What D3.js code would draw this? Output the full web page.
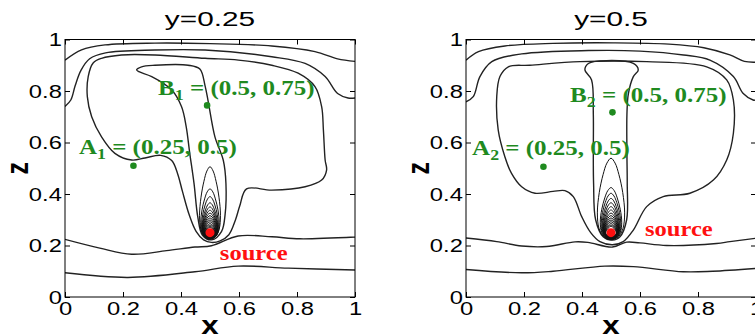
<!DOCTYPE html>
<html><head><meta charset="utf-8">
<script src="https://cdn.jsdelivr.net/npm/d3@7"></script>
<style>body{margin:0;background:#fff}svg{display:block}</style>
</head><body><svg id="c" width="755" height="334"></svg>
<script>
// ---------- data ----------
const tickValues = [0, 0.2, 0.4, 0.6, 0.8, 1];
const tickLabels = ["0", "0.2", "0.4", "0.6", "0.8", "1"];
const panelTitles = ["y=0.25", "y=0.5"];
const axisLabels = ["x", "z"];
const sourceLabel = "source";
const sourcePoint = [0.5, 0.25];

// panel 1 (y=0.25) contour lines, [x, z]
const p1Top1 = [[0,0.92],[0.057,0.96],[0.138,0.979],[0.31,0.986],[0.5,0.984],[0.713,0.975],[0.862,0.953],[0.94,0.925],[1,0.915]];
const p1Top2 = [[0,0.74],[0.02,0.765],[0.035,0.82],[0.055,0.88],[0.085,0.925],[0.14,0.948],[0.31,0.959],[0.483,0.959],[0.713,0.933],[0.828,0.907],[0.897,0.856],[0.94,0.79],[0.976,0.773],[1,0.773]];
const p1Blob = [[0.126,0.927],[0.097,0.909],[0.08,0.856],[0.077,0.778],[0.092,0.70],[0.126,0.622],[0.172,0.558],[0.23,0.532],[0.276,0.54],[0.33,0.55],[0.368,0.53],[0.388,0.48],[0.405,0.41],[0.428,0.32],[0.452,0.255],[0.478,0.222],[0.505,0.212],[0.535,0.218],[0.565,0.242],[0.588,0.3],[0.603,0.355],[0.626,0.42],[0.713,0.415],[0.828,0.428],[0.885,0.454],[0.902,0.493],[0.897,0.532],[0.891,0.649],[0.885,0.739],[0.862,0.817],[0.804,0.869],[0.713,0.90],[0.598,0.92],[0.483,0.927],[0.31,0.94],[0.195,0.94]];
const p1Tongue = [[0.247,0.882],[0.264,0.894],[0.31,0.90],[0.425,0.90],[0.465,0.885],[0.483,0.82],[0.494,0.758],[0.517,0.622],[0.546,0.53],[0.555,0.44],[0.552,0.32],[0.54,0.255],[0.506,0.222],[0.474,0.24],[0.458,0.31],[0.445,0.44],[0.43,0.56],[0.418,0.661],[0.402,0.739],[0.368,0.804],[0.299,0.856],[0.255,0.875]];
const p1Low1 = [[0,0.224],[0.12,0.19],[0.23,0.166],[0.35,0.18],[0.448,0.194],[0.505,0.199],[0.597,0.237],[0.713,0.234],[0.81,0.226],[1,0.233]];
const p1Low2 = [[0,0.094],[0.217,0.076],[0.448,0.098],[0.597,0.12],[0.77,0.112],[1,0.105]];
// plume contours around the source: [top z, half width, bottom z]
const p1Plume = [[0.506,0.036,0.224],[0.42,0.032,0.225],[0.39,0.029,0.226],[0.366,0.027,0.227],[0.35,0.026,0.228],[0.337,0.025,0.229],[0.326,0.024,0.23],[0.316,0.023,0.231],[0.307,0.022,0.232],[0.299,0.021,0.233],[0.292,0.02,0.234],[0.285,0.019,0.235],[0.279,0.018,0.236],[0.274,0.017,0.237],[0.27,0.016,0.238]];
const p1Points = [[0.236,0.51],[0.49,0.744]];
const p1PointNames = [["A","1"," = (0.25, 0.5)"],["B","1"," = (0.5, 0.75)"]];

// panel 2 (y=0.5)
const p2Top1 = [[0,0.92],[0.043,0.953],[0.134,0.975],[0.3,0.985],[0.508,0.987],[0.7,0.982],[0.82,0.968],[0.91,0.94],[0.96,0.915],[1,0.912]];
const p2Top2 = [[0,0.758],[0.025,0.778],[0.048,0.856],[0.089,0.914],[0.192,0.944],[0.422,0.957],[0.6,0.955],[0.75,0.94],[0.841,0.92],[0.922,0.856],[0.956,0.79],[0.99,0.765],[1,0.765]];
const p2Blob = [[0.146,0.894],[0.117,0.856],[0.106,0.778],[0.111,0.649],[0.134,0.545],[0.157,0.48],[0.192,0.428],[0.238,0.403],[0.3,0.41],[0.341,0.413],[0.37,0.39],[0.399,0.312],[0.43,0.25],[0.462,0.215],[0.505,0.203],[0.542,0.215],[0.577,0.26],[0.623,0.351],[0.68,0.39],[0.772,0.403],[0.853,0.454],[0.899,0.532],[0.922,0.636],[0.922,0.765],[0.899,0.843],[0.83,0.894],[0.623,0.914],[0.393,0.914],[0.22,0.90]];
const p2Tongue = [[0.41,0.882],[0.422,0.907],[0.485,0.918],[0.577,0.907],[0.594,0.882],[0.577,0.856],[0.56,0.79],[0.555,0.713],[0.555,0.55],[0.556,0.44],[0.554,0.30],[0.531,0.234],[0.505,0.221],[0.473,0.234],[0.447,0.30],[0.44,0.44],[0.439,0.55],[0.439,0.713],[0.433,0.843]];
const p2Low1 = [[0,0.229],[0.106,0.215],[0.192,0.198],[0.278,0.196],[0.376,0.214],[0.42,0.212],[0.505,0.194],[0.554,0.213],[0.6,0.21],[0.692,0.2],[0.864,0.208],[0.91,0.215],[1,0.228]];
const p2Low2 = [[0,0.107],[0.192,0.094],[0.3,0.1],[0.479,0.12],[0.577,0.118],[0.749,0.098],[0.85,0.1],[1,0.111]];
const p2Plume = [[0.539,0.047,0.222],[0.425,0.037,0.224],[0.403,0.034,0.225],[0.383,0.031,0.226],[0.366,0.029,0.227],[0.351,0.027,0.228],[0.338,0.026,0.229],[0.326,0.025,0.23],[0.316,0.024,0.231],[0.307,0.023,0.232],[0.299,0.022,0.233],[0.292,0.021,0.234],[0.285,0.02,0.235],[0.279,0.019,0.236],[0.274,0.018,0.237]];
const p2Points = [[0.267,0.506],[0.505,0.717]];
const p2PointNames = [["A","2"," = (0.25, 0.5)"],["B","2"," = (0.5, 0.75)"]];

// ---------- drawing ----------
const svg = d3.select("#c");
const SX = 1.25; // horizontal stretch of the original figure's text
const plumeProfile = [[0,0],[0.04,0.55],[0.14,0.88],[0.33,1],[0.58,0.86],[0.8,0.58],[0.94,0.3],[1,0]];

const panels = [
  {x0:65, title:panelTitles[0], open:[p1Top1,p1Top2,p1Low1,p1Low2], closed:[p1Blob,p1Tongue], plume:p1Plume, pts:p1Points, names:p1PointNames,
   labelPos:[[0.048,0.555],[0.321,0.784]], srcPos:[0.534,0.144]},
  {x0:466, title:panelTitles[1], open:[p2Top1,p2Top2,p2Low1,p2Low2], closed:[p2Blob,p2Tongue], plume:p2Plume, pts:p2Points, names:p2PointNames,
   labelPos:[[0.021,0.551],[0.359,0.758]], srcPos:[0.617,0.237]}
];

panels.forEach((P, idx) => {
  const x = d3.scaleLinear([0,1],[P.x0, P.x0+290]);
  const z = d3.scaleLinear([0,1],[297, 39.5]);
  const g = svg.append("g");
  const clipId = "clip"+idx;
  svg.append("clipPath").attr("id",clipId).append("rect")
    .attr("x",x(0)).attr("y",z(1)).attr("width",x(1)-x(0)).attr("height",z(0)-z(1));
  const cg = g.append("g").attr("clip-path",`url(#${clipId})`);
  const lineOpen = d3.line().x(p=>x(p[0])).y(p=>z(p[1])).curve(d3.curveCatmullRom.alpha(0.5));
  const lineClosed = d3.line().x(p=>x(p[0])).y(p=>z(p[1])).curve(d3.curveCatmullRomClosed.alpha(0.5));
  cg.selectAll("path.o").data(P.open).join("path").attr("class","o")
    .attr("d",lineOpen).attr("fill","none").attr("stroke","#222").attr("stroke-width",1.4);
  cg.selectAll("path.c").data(P.closed).join("path").attr("class","c")
    .attr("d",lineClosed).attr("fill","none").attr("stroke","#222").attr("stroke-width",1.4);
  // plume contours
  const xc = sourcePoint[0];
  const plumePts = P.plume.map(([top,hw,bot]) => {
    const right = plumeProfile.map(([t,f]) => [xc + f*hw, bot + t*(top-bot)]);
    const left = plumeProfile.slice(1,-1).reverse().map(([t,f]) => [xc - f*hw, bot + t*(top-bot)]);
    return right.concat(left);
  });
  cg.selectAll("path.p").data(plumePts).join("path").attr("class","p")
    .attr("d",lineClosed).attr("fill","none").attr("stroke","#111").attr("stroke-width",1.0);
  // border
  g.append("rect").attr("x",x(0)).attr("y",z(1)).attr("width",x(1)-x(0)).attr("height",z(0)-z(1))
    .attr("fill","none").attr("stroke","#000").attr("stroke-width",1);
  // axes
  const styleAxis = sel => {
    sel.select(".domain").remove();
    sel.selectAll("line").attr("stroke","#000");
  };
  const ax = g.append("g").attr("transform",`translate(0,${z(0)})`)
    .call(d3.axisBottom(x).tickValues(tickValues).tickSize(-5).tickPadding(5).tickFormat((v,i)=>tickLabels[i]));
  styleAxis(ax);
  ax.selectAll("text").attr("font-family","Liberation Sans, Arial, sans-serif").attr("font-size",19).attr("fill","#000")
    .attr("transform",`scale(${SX},1)`);
  const ay = g.append("g").attr("transform",`translate(${x(0)},0)`)
    .call(d3.axisLeft(z).tickValues(tickValues).tickSize(-5).tickPadding(2.5).tickFormat((v,i)=>tickLabels[i]));
  styleAxis(ay);
  ay.selectAll("text").attr("font-family","Liberation Sans, Arial, sans-serif").attr("font-size",19).attr("fill","#000")
    .attr("transform",`scale(${SX},1)`);
  const at = g.append("g").attr("transform",`translate(0,${z(1)})`)
    .call(d3.axisTop(x).tickValues(tickValues).tickSize(-5).tickFormat(""));
  styleAxis(at);
  const ar = g.append("g").attr("transform",`translate(${x(1)},0)`)
    .call(d3.axisRight(z).tickValues(tickValues).tickSize(-5).tickFormat(""));
  styleAxis(ar);
  // title
  g.append("text").attr("transform",`translate(${x(0.5)},26) scale(1.42,1)`).attr("text-anchor","middle")
    .attr("font-family","Liberation Sans, Arial, sans-serif").attr("font-size",21).text(P.title);
  // axis labels
  g.append("text").attr("transform",`translate(${x(0.5)},334) scale(${SX},1)`).attr("text-anchor","middle")
    .attr("font-family","Liberation Sans, Arial, sans-serif").attr("font-weight","bold").attr("font-size",25).text(axisLabels[0]);
  g.append("text").attr("transform",`translate(${P.x0-37},${z(0.5)}) scale(${SX},1) rotate(-90)`).attr("text-anchor","middle")
    .attr("font-family","Liberation Sans, Arial, sans-serif").attr("font-weight","bold").attr("font-size",25).text(axisLabels[1]);
  // green points
  g.selectAll("circle.pt").data(P.pts).join("circle").attr("class","pt")
    .attr("cx",d=>x(d[0])).attr("cy",d=>z(d[1])).attr("r",3.3).attr("fill","#1f8a1f");
  P.names.forEach((nm,i) => {
    const t = g.append("text").attr("transform",`translate(${x(P.labelPos[i][0])},${z(P.labelPos[i][1])}) scale(1.19,1)`)
      .attr("font-family","Liberation Serif, Times New Roman, serif").attr("font-weight","bold").attr("font-size",21).attr("fill","#1f8a1f");
    t.append("tspan").text(nm[0]);
    t.append("tspan").attr("font-size",15).attr("dy",5).text(nm[1]);
    t.append("tspan").attr("dy",-5).text(nm[2]);
  });
  // source
  g.append("circle").attr("cx",x(sourcePoint[0])).attr("cy",z(sourcePoint[1])).attr("r",4.5).attr("fill","#ff1010");
  g.append("text").attr("transform",`translate(${x(P.srcPos[0])},${z(P.srcPos[1])}) scale(1.17,1)`)
    .attr("font-family","Liberation Serif, Times New Roman, serif").attr("font-weight","bold").attr("font-size",21).attr("fill","#ff1010").text(sourceLabel);
});
</script></body></html>
